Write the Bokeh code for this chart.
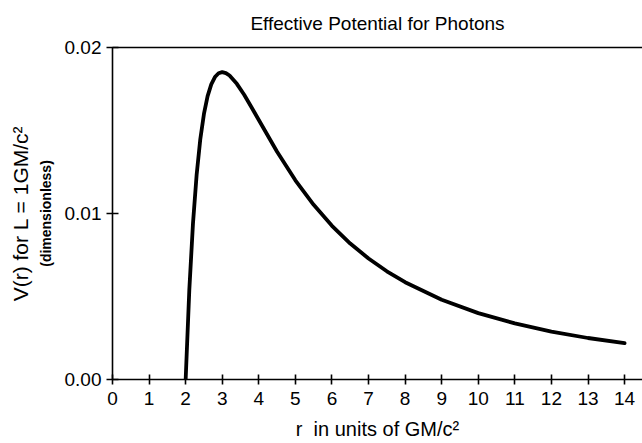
from bokeh.plotting import figure
from bokeh.models import LinearAxis, FixedTicker, PrintfTickFormatter, Range1d
from bokeh.embed import file_html
from bokeh.resources import INLINE

# values
r_values = [2.0, 2.1, 2.2, 2.3, 2.4, 2.5, 2.6, 2.7, 2.8, 2.9, 3.0, 3.1, 3.2, 3.4, 3.6, 3.8,
            4.0, 4.5, 5.0, 5.5, 6.0, 6.5, 7.0, 7.5, 8.0, 9.0, 10.0, 11.0, 12.0, 13.0, 14.0]
v_values = [0.0, 0.0054, 0.00939, 0.01233, 0.01447, 0.0160, 0.01707, 0.01778, 0.01822, 0.01845,
            0.01852, 0.01846, 0.01831, 0.01781, 0.01715, 0.01640, 0.01563, 0.01372, 0.0120,
            0.01052, 0.00926, 0.00819, 0.00729, 0.00652, 0.00586, 0.0048, 0.0040, 0.00338,
            0.00289, 0.0025, 0.00219]
x_ticks = list(range(0, 15))
y_ticks = [0.0, 0.01, 0.02]

title_text = "Effective Potential for Photons"
x_label = "r\u00a0\u00a0in units of GM/c\u00b2"
y_label = "V(r) for L = 1GM/c\u00b2"
y_sublabel = "(dimensionless)"

FONT = "Liberation Sans"

p = figure(width=642, height=443, output_backend="svg", toolbar_location=None,
           x_range=Range1d(0, 14.49), y_range=Range1d(0, 0.02),
           x_axis_type=None, y_axis_type=None,
           min_border_left=112, min_border_right=0, min_border_top=47, min_border_bottom=64)
p.outline_line_color = None
p.background_fill_color = "white"
p.border_fill_color = "white"


def style_line(ax):
    ax.axis_line_width = 1.6
    ax.axis_line_color = "black"
    ax.major_tick_line_width = 1.6
    ax.major_tick_line_color = "black"
    ax.minor_tick_line_color = None
    ax.axis_label_text_font = FONT
    ax.axis_label_text_font_style = "normal"
    ax.axis_label_text_color = "black"
    ax.major_label_text_font = FONT
    ax.major_label_text_color = "black"


xaxis = LinearAxis(ticker=FixedTicker(ticks=x_ticks), axis_label=x_label)
style_line(xaxis)
xaxis.major_tick_in = 5
xaxis.major_tick_out = 5
xaxis.major_label_standoff = 7
xaxis.major_label_text_font_size = "19px"
xaxis.axis_label_text_font_size = "20px"
xaxis.axis_label_standoff = 10
p.add_layout(xaxis, "below")

yaxis = LinearAxis(ticker=FixedTicker(ticks=y_ticks), formatter=PrintfTickFormatter(format="%.2f"))
style_line(yaxis)
yaxis.major_tick_in = 6
yaxis.major_tick_out = 6
yaxis.major_label_standoff = 5
yaxis.major_label_text_font_size = "19px"
p.add_layout(yaxis, "left")

ysub = LinearAxis(ticker=FixedTicker(ticks=[]), axis_label=y_sublabel)
style_line(ysub)
ysub.axis_line_color = None
ysub.major_label_text_font_size = "0px"
ysub.axis_label_text_font_size = "14px"
ysub.axis_label_text_font_style = "bold"
ysub.axis_label_standoff = 8
p.add_layout(ysub, "left")

ymain = LinearAxis(ticker=FixedTicker(ticks=[]), axis_label=y_label)
style_line(ymain)
ymain.axis_line_color = None
ymain.major_label_text_font_size = "0px"
ymain.axis_label_text_font_size = "21px"
ymain.axis_label_standoff = 3
p.add_layout(ymain, "left")

top = LinearAxis(ticker=FixedTicker(ticks=[]), axis_label=title_text)
style_line(top)
top.major_tick_line_color = None
top.major_label_text_font_size = "0px"
top.axis_label_text_font_size = "19px"
top.axis_label_standoff = 14
p.add_layout(top, "above")

p.line(r_values, v_values, line_width=3.8, line_color="black", line_join="round", line_cap="round")

open("out.html", "w").write(file_html(p, INLINE))
